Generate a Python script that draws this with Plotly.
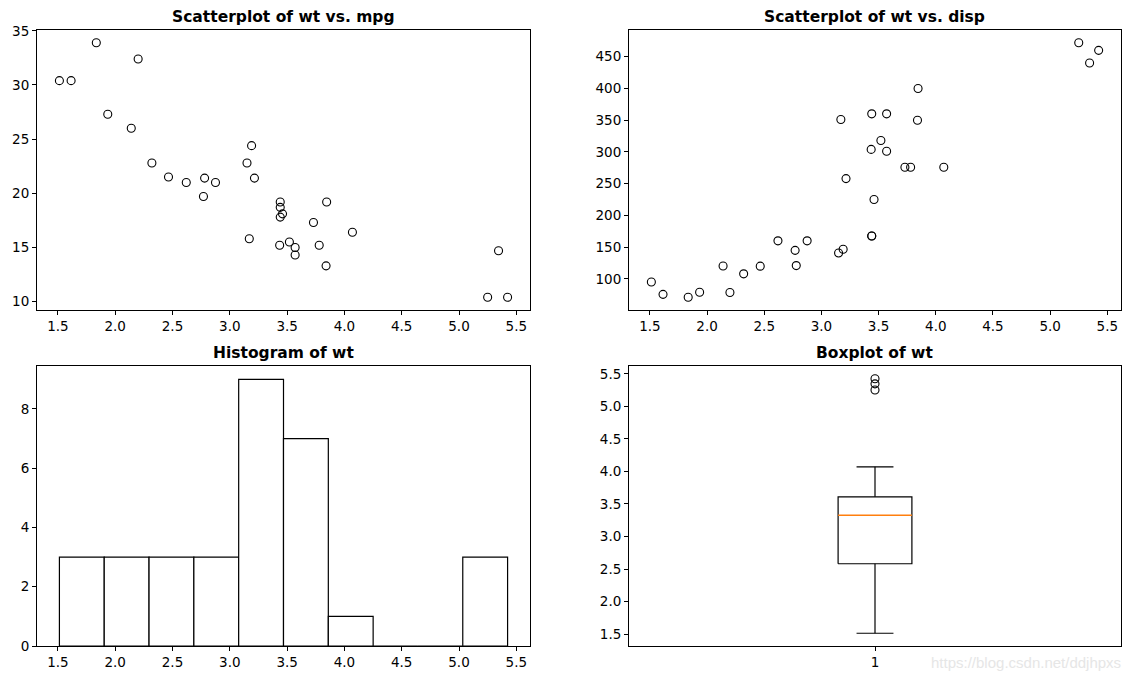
import numpy as np
import plotly.graph_objects as go

# mtcars data
wt = [2.620, 2.875, 2.320, 3.215, 3.440, 3.460, 3.570, 3.190, 3.150, 3.440, 3.440,
      4.070, 3.730, 3.780, 5.250, 5.424, 5.345, 2.200, 1.615, 1.835, 2.465, 3.520,
      3.435, 3.840, 3.845, 1.935, 2.140, 1.513, 3.170, 2.770, 3.570, 2.780]
mpg = [21.0, 21.0, 22.8, 21.4, 18.7, 18.1, 14.3, 24.4, 22.8, 19.2, 17.8,
       16.4, 17.3, 15.2, 10.4, 10.4, 14.7, 32.4, 30.4, 33.9, 21.5, 15.5,
       15.2, 13.3, 19.2, 27.3, 26.0, 30.4, 15.8, 19.7, 15.0, 21.4]
disp = [160, 160, 108, 258, 360, 225, 360, 146.7, 140.8, 167.6, 167.6,
        275.8, 275.8, 275.8, 472, 460, 440, 78.7, 75.7, 71.1, 120.1, 318,
        304, 350, 400, 79, 120.3, 95.1, 351, 145, 301, 121]

W, H = 1132, 680
def px_x(a, b):
    return [a / W, b / W]
def px_y(top, bottom):
    return [1 - bottom / H, 1 - top / H]

dom = {
    1: (px_x(37, 530), px_y(30, 310)),
    2: (px_x(629, 1121), px_y(30, 310)),
    3: (px_x(37, 530), px_y(366, 646)),
    4: (px_x(629, 1121), px_y(366, 646)),
}

def pad(lo, hi, m=0.05):
    r = hi - lo
    return [lo - m * r, hi + m * r]

fig = go.Figure()
mk = dict(symbol="circle-open", size=8, color="black", line=dict(width=1.1, color="black"))

fig.add_trace(go.Scatter(x=wt, y=mpg, mode="markers", marker=mk, xaxis="x", yaxis="y"))
fig.add_trace(go.Scatter(x=wt, y=disp, mode="markers", marker=mk, xaxis="x2", yaxis="y2"))

counts, edges = np.histogram(wt, bins=10)
centers = (edges[:-1] + edges[1:]) / 2
widths = np.diff(edges)
fig.add_trace(go.Bar(x=centers, y=counts, width=widths, marker=dict(color="white", line=dict(color="black", width=1.2)),
                     xaxis="x3", yaxis="y3"))

# Boxplot (matplotlib style, whis=1.5)
arr = np.array(wt)
q1, med, q3 = np.percentile(arr, [25, 50, 75])
iqr = q3 - q1
lo_w = arr[arr >= q1 - 1.5 * iqr].min()
hi_w = arr[arr <= q3 + 1.5 * iqr].max()
outl = arr[(arr < lo_w) | (arr > hi_w)]
bw, cw = 0.075, 0.0375
c = 1.0
lk = dict(color="black", width=1.2)
box_x = [c - bw, c + bw, c + bw, c - bw, c - bw]
box_y = [q1, q1, q3, q3, q1]
fig.add_trace(go.Scatter(x=box_x, y=box_y, mode="lines", line=lk, xaxis="x4", yaxis="y4"))
fig.add_trace(go.Scatter(x=[c, c, None, c, c, None, c - cw, c + cw, None, c - cw, c + cw],
                         y=[q1, lo_w, None, q3, hi_w, None, lo_w, lo_w, None, hi_w, hi_w],
                         mode="lines", line=lk, xaxis="x4", yaxis="y4"))
fig.add_trace(go.Scatter(x=[c - bw, c + bw], y=[med, med], mode="lines",
                         line=dict(color="#ff7f0e", width=1.5), xaxis="x4", yaxis="y4"))
fig.add_trace(go.Scatter(x=[c] * len(outl), y=outl, mode="markers", marker=mk, xaxis="x4", yaxis="y4"))

axcommon = dict(showgrid=False, zeroline=False, showline=True, mirror=True, linecolor="black", linewidth=1,
                ticks="outside", ticklen=4, tickcolor="black", tickwidth=1,
                tickfont=dict(family="DejaVu Sans", size=13.5, color="black"), automargin=False)

xr = pad(min(wt), max(wt))
layout = dict(
    width=W, height=H, margin=dict(l=0, r=0, t=0, b=0), showlegend=False,
    plot_bgcolor="white", paper_bgcolor="white",
    xaxis=dict(domain=dom[1][0], anchor="y", range=xr, dtick=0.5, tick0=0, tickformat=".1f", **axcommon),
    yaxis=dict(domain=dom[1][1], anchor="x", range=pad(min(mpg), max(mpg)), dtick=5, **axcommon),
    xaxis2=dict(domain=dom[2][0], anchor="y2", range=xr, dtick=0.5, tick0=0, tickformat=".1f", **axcommon),
    yaxis2=dict(domain=dom[2][1], anchor="x2", range=pad(min(disp), max(disp)), dtick=50, tick0=0, **axcommon),
    xaxis3=dict(domain=dom[3][0], anchor="y3", range=xr, dtick=0.5, tick0=0, tickformat=".1f", **axcommon),
    yaxis3=dict(domain=dom[3][1], anchor="x3", range=[0, max(counts) * 1.05], dtick=2, tick0=0, **axcommon),
    xaxis4=dict(domain=dom[4][0], anchor="y4", range=[0.5, 1.5], tickvals=[1], ticktext=["1"], **axcommon),
    yaxis4=dict(domain=dom[4][1], anchor="x4", range=xr, dtick=0.5, tick0=0, tickformat=".1f", **axcommon),
)
fig.update_layout(**layout)

titles = ["Scatterplot of wt vs. mpg", "Scatterplot of wt vs. disp", "Histogram of wt", "Boxplot of wt"]
for i, t in enumerate(titles, start=1):
    xd, yd = dom[i]
    fig.add_annotation(text="<b>%s</b>" % t, x=(xd[0] + xd[1]) / 2, y=yd[1] + 2 / H, xref="paper", yref="paper",
                       xanchor="center", yanchor="bottom", showarrow=False,
                       font=dict(family="DejaVu Sans", size=15.5, color="black"))

fig.add_annotation(text="https://blog.csdn.net/ddjhpxs", x=1123 / W, y=1 - 662 / H, xref="paper", yref="paper",
                   xanchor="right", yanchor="middle", showarrow=False,
                   font=dict(family="Liberation Sans", size=15, color="#e6e6e6"))

fig.write_html("out.html", config={"displayModeBar": False},
               post_script="document.body.style.margin='0';document.body.style.overflow='hidden';")
